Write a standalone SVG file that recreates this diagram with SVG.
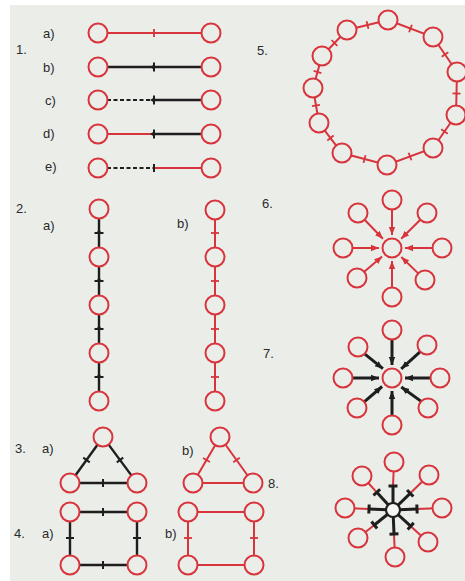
<svg xmlns="http://www.w3.org/2000/svg" xmlns:xlink="http://www.w3.org/1999/xlink" width="465" height="581" viewBox="0 0 465 581">
<style>
.n{fill:#ebede9;stroke:#d8343c;stroke-width:2}
.r{stroke:#d8343c;stroke-width:2;fill:none}
.k{stroke:#1e1e1e;stroke-width:2.4;fill:none}
.kk{stroke:#1e1e1e;stroke-width:3;fill:none}
.d{stroke:#1e1e1e;stroke-width:2.2;stroke-dasharray:4 2.5;fill:none}
.t{font-family:"Liberation Sans",Arial,sans-serif;font-size:13px;fill:#2a2a2a}
</style>
<defs>
<g id="tr"><line x1="0" y1="-4" x2="0" y2="4" stroke="#d8343c" stroke-width="1.8"/></g>
<g id="tp"><line x1="0" y1="-4" x2="0" y2="4" stroke="#1e1e1e" stroke-width="2"/></g>
<g id="tk"><line x1="0" y1="-4.5" x2="0" y2="4.5" stroke="#1e1e1e" stroke-width="2"/><path d="M-4,0 L0,-2.5 L0,2.5 Z" fill="#1e1e1e"/></g>
<g id="bar"><line x1="0" y1="-4.5" x2="0" y2="4.5" stroke="#1e1e1e" stroke-width="3"/></g>
<marker id="ar" viewBox="0 0 10 10" refX="10" refY="5" markerWidth="8" markerHeight="8" markerUnits="userSpaceOnUse" orient="auto"><path d="M0,1 L10,5 L0,9 Z" fill="#d8343c"/></marker>
<marker id="ak" viewBox="0 0 10 10" refX="10" refY="5" markerWidth="8" markerHeight="8" markerUnits="userSpaceOnUse" orient="auto"><path d="M0,1 L10,5 L0,9 Z" fill="#1e1e1e"/></marker>
</defs>
<rect x="0" y="0" width="465" height="581" fill="#ffffff"/>
<rect x="10" y="5" width="455" height="576" fill="#ebede9"/>

<g id="labels">
<text class="t" x="16" y="54">1.</text>
<text class="t" x="43" y="38">a)</text>
<text class="t" x="43" y="72">b)</text>
<text class="t" x="45" y="105">c)</text>
<text class="t" x="43" y="138">d)</text>
<text class="t" x="45" y="171">e)</text>
<text class="t" x="16" y="213">2.</text>
<text class="t" x="43" y="230">a)</text>
<text class="t" x="177" y="228">b)</text>
<text class="t" x="15" y="453">3.</text>
<text class="t" x="42" y="453">a)</text>
<text class="t" x="182" y="455">b)</text>
<text class="t" x="268" y="488">8.</text>
<text class="t" x="14" y="538">4.</text>
<text class="t" x="42" y="538">a)</text>
<text class="t" x="165" y="538">b)</text>
<text class="t" x="257" y="55">5.</text>
<text class="t" x="262" y="208">6.</text>
<text class="t" x="263" y="358">7.</text>
</g>

<g id="connectors">
<!-- 1 -->
<line class="r" x1="98" y1="33" x2="211" y2="33"/><use href="#tr" transform="translate(154,33)"/>
<line class="k" x1="98" y1="67" x2="211" y2="67"/><use href="#tk" transform="translate(154,67)"/>
<line class="d" x1="107" y1="100" x2="154" y2="100"/><line class="k" x1="154" y1="100" x2="211" y2="100"/><use href="#tk" transform="translate(154,100)"/>
<line class="r" x1="98" y1="134" x2="154" y2="134"/><line class="k" x1="154" y1="134" x2="211" y2="134"/><use href="#tk" transform="translate(154,134)"/>
<line class="d" x1="107" y1="168" x2="154" y2="168"/><line class="r" x1="154" y1="168" x2="211" y2="168"/><use href="#tp" transform="translate(154,168)"/>
<!-- 2 -->
<line class="k" x1="99" y1="209" x2="99" y2="401"/>
<use href="#tk" transform="translate(99,233) rotate(90)"/><use href="#tk" transform="translate(99,281) rotate(90)"/><use href="#tk" transform="translate(99,329) rotate(90)"/><use href="#tk" transform="translate(99,377) rotate(90)"/>
<line class="r" x1="215" y1="210" x2="215" y2="401"/>
<use href="#tr" transform="translate(215,233) rotate(90)"/><use href="#tr" transform="translate(215,281) rotate(90)"/><use href="#tr" transform="translate(215,329) rotate(90)"/><use href="#tr" transform="translate(215,377) rotate(90)"/>
<!-- 3 -->
<line class="k" x1="97.5" y1="444.7" x2="75.5" y2="475.3"/><use href="#tp" transform="translate(86.5,460) rotate(125.7)"/>
<line class="k" x1="108.6" y1="444.6" x2="131.4" y2="475.4"/><use href="#tp" transform="translate(120,460) rotate(53.5)"/>
<line class="k" x1="79.5" y1="483" x2="127.5" y2="483"/><use href="#tp" transform="translate(103,483)"/>
<line class="r" x1="220" y1="437" x2="193" y2="483"/><use href="#tr" transform="translate(206.5,460) rotate(120.4)"/>
<line class="r" x1="220" y1="437" x2="253" y2="483"/><use href="#tr" transform="translate(236.5,460) rotate(54.3)"/>
<line class="r" x1="193" y1="483" x2="253" y2="483"/>
<!-- 4 -->
<line class="k" x1="79.5" y1="512" x2="127.5" y2="512"/><use href="#tp" transform="translate(103,512)"/>
<line class="k" x1="79.5" y1="565" x2="127.5" y2="565"/><use href="#tp" transform="translate(103,565)"/>
<line class="k" x1="70" y1="521.5" x2="70" y2="555.5"/><use href="#tp" transform="translate(70,538) rotate(90)"/>
<line class="k" x1="137" y1="521.5" x2="137" y2="555.5"/><use href="#tp" transform="translate(137,538) rotate(90)"/>
<path class="r" d="M188,512 H254 V565 H188 Z"/>
<use href="#tr" transform="translate(188,538) rotate(90)"/><use href="#tr" transform="translate(254,538) rotate(90)"/>
<!-- 5 -->
<path class="r" d="M388,20 L433,37 L457,72 L456,115 L433,148 L387,165 L342,153 L319,123 L313,88 L322,56 L347,30 Z"/>
<use href="#tr" transform="translate(410.5,28.5) rotate(20.7)"/>
<use href="#tr" transform="translate(445,54.5) rotate(55.6)"/>
<use href="#tr" transform="translate(456.5,93.5) rotate(91.3)"/>
<use href="#tr" transform="translate(444.5,131.5) rotate(124.9)"/>
<use href="#tr" transform="translate(410,156.5) rotate(159.7)"/>
<use href="#tr" transform="translate(364.5,159) rotate(194.9)"/>
<use href="#tr" transform="translate(330.5,138) rotate(232.5)"/>
<use href="#tr" transform="translate(316,105.5) rotate(260.3)"/>
<use href="#tr" transform="translate(317.5,72) rotate(285.7)"/>
<use href="#tr" transform="translate(334.5,43) rotate(313.9)"/>
<use href="#tr" transform="translate(367.5,25) rotate(346.3)"/>
<!-- 6 -->
<g class="r" marker-end="url(#ar)">
<line x1="392" y1="209.5" x2="392" y2="235"/>
<line x1="420.3" y1="219.7" x2="401.2" y2="238.8"/>
<line x1="432.5" y1="248" x2="405" y2="248"/>
<line x1="418.2" y1="273.4" x2="401.3" y2="257"/>
<line x1="392" y1="287.5" x2="392" y2="261"/>
<line x1="364.2" y1="271.8" x2="382.1" y2="256.5"/>
<line x1="352.5" y1="248" x2="379" y2="248"/>
<line x1="364.6" y1="219.8" x2="382.9" y2="238.7"/>
</g>
<!-- 7 -->
<g class="kk" marker-end="url(#ak)">
<line x1="392" y1="339.5" x2="392" y2="365"/>
<line x1="420.3" y1="351.7" x2="401.2" y2="368.8"/>
<line x1="430.5" y1="378" x2="405" y2="378"/>
<line x1="421.2" y1="401.4" x2="401.3" y2="387"/>
<line x1="392" y1="415.5" x2="392" y2="391"/>
<line x1="364.2" y1="401.8" x2="382.1" y2="386.5"/>
<line x1="352.5" y1="378" x2="379" y2="378"/>
<line x1="364.6" y1="353.8" x2="382.9" y2="368.7"/>
</g>
<!-- 8 -->
<g class="r">
<line x1="393" y1="486" x2="394" y2="462"/>
<line x1="410.2" y1="493.3" x2="429" y2="475"/>
<line x1="417" y1="509" x2="442" y2="508"/>
<line x1="410.7" y1="526.2" x2="428" y2="542"/>
<line x1="394" y1="534" x2="395" y2="557"/>
<line x1="374.3" y1="525" x2="358" y2="538"/>
<line x1="369" y1="509" x2="345" y2="508"/>
<line x1="376.8" y1="492.3" x2="362" y2="476"/>
</g>
<g class="kk">
<line x1="393" y1="510" x2="393" y2="486"/>
<line x1="393" y1="510" x2="410.2" y2="493.3"/>
<line x1="393" y1="510" x2="417" y2="509"/>
<line x1="393" y1="510" x2="410.7" y2="526.2"/>
<line x1="393" y1="510" x2="394" y2="534"/>
<line x1="393" y1="510" x2="374.3" y2="525"/>
<line x1="393" y1="510" x2="369" y2="509"/>
<line x1="393" y1="510" x2="376.8" y2="492.3"/>
</g>
<use href="#bar" transform="translate(393,486) rotate(-90)"/>
<use href="#bar" transform="translate(410.2,493.3) rotate(-44.2)"/>
<use href="#bar" transform="translate(417,509) rotate(-2.3)"/>
<use href="#bar" transform="translate(410.7,526.2) rotate(42.4)"/>
<use href="#bar" transform="translate(394,534) rotate(87.6)"/>
<use href="#bar" transform="translate(374.3,525) rotate(141.3)"/>
<use href="#bar" transform="translate(369,509) rotate(182.4)"/>
<use href="#bar" transform="translate(376.8,492.3) rotate(227.6)"/>
</g>

<g id="nodes">
<g id="s1"><circle class="n" cx="98" cy="33" r="9.5"/><circle class="n" cx="211" cy="33" r="9.5"/><circle class="n" cx="98" cy="67" r="9.5"/><circle class="n" cx="211" cy="67" r="9.5"/><circle class="n" cx="98" cy="100" r="9.5"/><circle class="n" cx="211" cy="100" r="9.5"/><circle class="n" cx="98" cy="134" r="9.5"/><circle class="n" cx="211" cy="134" r="9.5"/><circle class="n" cx="98" cy="168" r="9.5"/><circle class="n" cx="211" cy="168" r="9.5"/></g>
<g id="s2a"><circle class="n" cx="99" cy="209" r="9.5"/><circle class="n" cx="99" cy="257" r="9.5"/><circle class="n" cx="99" cy="305" r="9.5"/><circle class="n" cx="99" cy="353" r="9.5"/><circle class="n" cx="99" cy="401" r="9.5"/></g>
<g id="s2b"><circle class="n" cx="215" cy="210" r="9.5"/><circle class="n" cx="215" cy="257" r="9.5"/><circle class="n" cx="215" cy="305" r="9.5"/><circle class="n" cx="215" cy="353" r="9.5"/><circle class="n" cx="215" cy="401" r="9.5"/></g>
<g id="s3a"><circle class="n" cx="103" cy="437" r="9.5"/><circle class="n" cx="70" cy="483" r="9.5"/><circle class="n" cx="137" cy="483" r="9.5"/></g>
<g id="s3b"><circle class="n" cx="220" cy="437" r="9.5"/><circle class="n" cx="193" cy="483" r="9.5"/><circle class="n" cx="253" cy="483" r="9.5"/></g>
<g id="s4a"><circle class="n" cx="70" cy="512" r="9.5"/><circle class="n" cx="137" cy="512" r="9.5"/><circle class="n" cx="70" cy="565" r="9.5"/><circle class="n" cx="137" cy="565" r="9.5"/></g>
<g id="s4b"><circle class="n" cx="188" cy="512" r="9.5"/><circle class="n" cx="254" cy="512" r="9.5"/><circle class="n" cx="188" cy="565" r="9.5"/><circle class="n" cx="254" cy="565" r="9.5"/></g>
<g id="s5"><circle class="n" cx="388" cy="20" r="9.5"/><circle class="n" cx="433" cy="37" r="9.5"/><circle class="n" cx="457" cy="72" r="9.5"/><circle class="n" cx="456" cy="115" r="9.5"/><circle class="n" cx="433" cy="148" r="9.5"/><circle class="n" cx="387" cy="165" r="9.5"/><circle class="n" cx="342" cy="153" r="9.5"/><circle class="n" cx="319" cy="123" r="9.5"/><circle class="n" cx="313" cy="88" r="9.5"/><circle class="n" cx="322" cy="56" r="9.5"/><circle class="n" cx="347" cy="30" r="9.5"/></g>
<g id="s6"><circle class="n" cx="392" cy="248" r="9.5"/><circle class="n" cx="392" cy="200" r="9.5"/><circle class="n" cx="427" cy="213" r="9.5"/><circle class="n" cx="442" cy="248" r="9.5"/><circle class="n" cx="425" cy="280" r="9.5"/><circle class="n" cx="392" cy="297" r="9.5"/><circle class="n" cx="357" cy="278" r="9.5"/><circle class="n" cx="343" cy="248" r="9.5"/><circle class="n" cx="358" cy="213" r="9.5"/></g>
<g id="s7"><circle class="n" cx="392" cy="378" r="9.5"/><circle class="n" cx="392" cy="330" r="9.5"/><circle class="n" cx="427" cy="345" r="9.5"/><circle class="n" cx="440" cy="378" r="9.5"/><circle class="n" cx="428" cy="408" r="9.5"/><circle class="n" cx="392" cy="425" r="9.5"/><circle class="n" cx="357" cy="408" r="9.5"/><circle class="n" cx="343" cy="378" r="9.5"/><circle class="n" cx="358" cy="347" r="9.5"/></g>
<g id="s8"><circle cx="393" cy="510" r="7" fill="#f6f6f4" stroke="#1e1e1e" stroke-width="2.2"/><circle class="n" cx="394" cy="462" r="9.5"/><circle class="n" cx="429" cy="475" r="9.5"/><circle class="n" cx="442" cy="508" r="9.5"/><circle class="n" cx="428" cy="542" r="9.5"/><circle class="n" cx="395" cy="557" r="9.5"/><circle class="n" cx="358" cy="538" r="9.5"/><circle class="n" cx="345" cy="508" r="9.5"/><circle class="n" cx="362" cy="476" r="9.5"/></g>
</g>
</svg>
